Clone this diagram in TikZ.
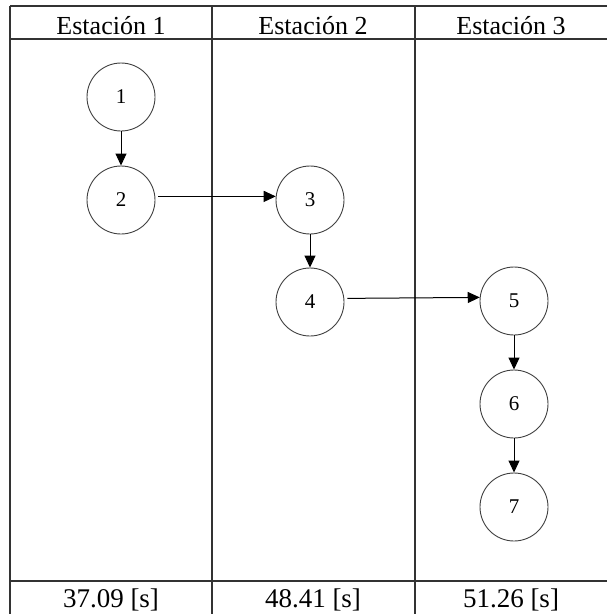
\documentclass[tikz,border=0pt]{standalone}
\usepackage{fontspec}
\setmainfont{Liberation Serif}
\usetikzlibrary{arrows.meta}
\begin{document}
\begin{tikzpicture}[x=1pt,y=-1pt,
  gridline/.style={line width=1.1pt,draw=black!80},
  proc/.style={circle,draw=black!75,line width=0.9pt,minimum size=68pt,inner sep=0pt,font=\fontsize{21}{23}\selectfont},
  flow/.style={line width=1pt,-{Triangle[length=12pt,width=11pt]}},
  head/.style={anchor=base,font=\fontsize{26}{28}\selectfont},
  foot/.style={anchor=base,font=\fontsize{27}{29}\selectfont}]
\useasboundingbox (0,0) rectangle (607,614);
% table
\draw[gridline] (10,6) -- (608,6);
\draw[gridline] (10,39) -- (608,39);
\draw[gridline] (10,581) -- (608,581);
\draw[gridline] (10,6) -- (10,615);
\draw[gridline] (212,6) -- (212,615);
\draw[gridline] (415,6) -- (415,615);
\node[head] (h1) at (111,34) {Estación 1};
\node[head] (h2) at (313,34) {Estación 2};
\node[head] (h3) at (511,34) {Estación 3};
\node[foot] (f1) at (111,607) {37.09 [s]};
\node[foot] (f2) at (313,607) {48.41 [s]};
\node[foot] (f3) at (511,607) {51.26 [s]};
% nodes
\node[proc] (n1) at (121,97) {1};
\node[proc] (n2) at (121,200) {2};
\node[proc] (n3) at (310,200) {3};
\node[proc] (n4) at (310,302) {4};
\node[proc] (n5) at (514,301) {5};
\node[proc] (n6) at (514,404) {6};
\node[proc] (n7) at (514,507) {7};
% arrows
\draw[flow] (n1) -- (n2);
\draw[flow,shorten <=3pt] (n2.6) -- (n3.174);
\draw[flow] (n3) -- (n4);
\draw[flow,shorten <=3pt] (n4.6) -- (n5.174);
\draw[flow] (n5) -- (n6);
\draw[flow] (n6) -- (n7);
\end{tikzpicture}
\end{document}
